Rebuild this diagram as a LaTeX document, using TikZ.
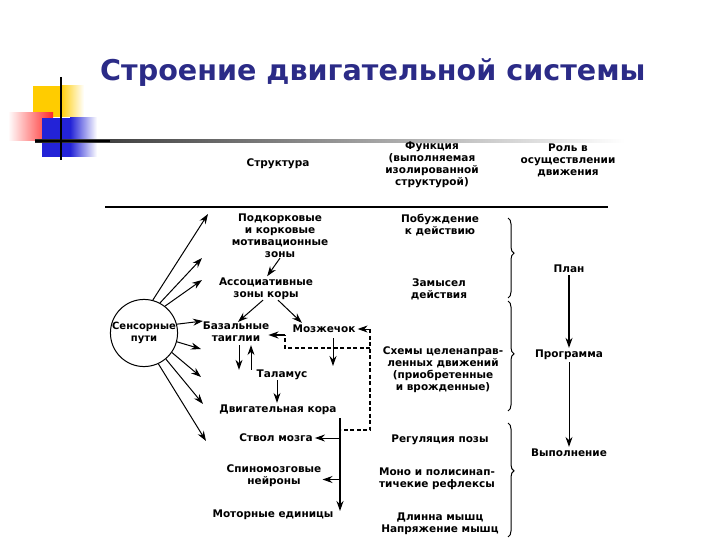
\documentclass[tikz,border=0pt]{standalone}
\usepackage{fontspec}
\setmainfont{DejaVu Sans}
\usetikzlibrary{arrows.meta,decorations.pathreplacing}
\definecolor{titleblue}{RGB}{43,43,135}
\definecolor{decoyellow}{RGB}{255,204,0}
\definecolor{decored}{RGB}{255,40,40}
\definecolor{decoblue}{RGB}{35,35,215}
\begin{document}
\begin{tikzpicture}[x=1pt,y=-1pt,
  txt/.style={font=\fontsize{10.5}{12}\selectfont\bfseries, align=center, inner sep=0pt},
  arr/.style={-{Stealth[length=10pt,width=7pt]}, line width=1pt},
  dsh/.style={dash pattern=on 4pt off 2.5pt, line width=1.3pt},
  brc/.style={decorate, line width=1pt}
]
\useasboundingbox (0,0) rectangle (720,540);
% decoration
\fill[decoyellow] (33,86) rectangle (60,117);
\shade[left color=decoyellow, right color=white] (60,86) rectangle (84,117);
\shade[left color=white, right color=decored] (8,113) rectangle (53,141);
\fill[decoblue] (42,118) rectangle (70,157);
\shade[left color=decoblue, right color=white] (70,118) rectangle (97,157);
\shade[left color=black!85, middle color=black!45, right color=white] (35,139.8) rectangle (625,142.3);
\draw[line width=2.5pt] (35,141) -- (110,141);
\draw[line width=2.5pt] (61,77) -- (61,160);
% title
\node[font=\fontsize{28.6}{33}\selectfont\bfseries, text=titleblue, anchor=base west, inner sep=0pt] (title) at (100,81) {Строение двигательной системы};
% headers
\node[txt] (struct) at (278,164) {Структура};
\node[txt] (func) at (432,164.5) {Функция\\(выполняемая\\изолированной\\структурой)};
\node[txt] (role) at (568,160) {Роль в\\осуществлении\\движения};
\draw[line width=2.5pt] (105,207) -- (608,207);
% structure column
\node[draw, circle, line width=1pt, minimum size=64pt, inner sep=0pt, font=\fontsize{10}{12}\selectfont\bfseries, align=center] (sens) at (144,333) {Сенсорные\\пути};
\node[txt] (podk) at (280,236) {Подкорковые\\и корковые\\мотивационные\\зоны};
\node[txt] (assoc) at (266,289) {Ассоциативные\\зоны коры};
\node[txt] (basal) at (236,332) {Базальные\\таиглии};
\node[txt] (cereb) at (324,329) {Мозжечок};
\node[txt] (thal) at (282,375) {Таламус};
\node[txt] (motor) at (278,410) {Двигательная кора};
\node[txt] (stem) at (276,438) {Ствол мозга};
\node[txt] (spinal) at (274,475.5) {Спиномозговые\\нейроны};
\node[txt] (units) at (273,515) {Моторные единицы};
% function column
\node[txt] (f1) at (440,225) {Побуждение\\к действию};
\node[txt] (f2) at (439,289) {Замысел\\действия};
\node[txt] (f3) at (443,370) {Схемы целенаправ-\\ленных движений\\(приобретенные\\и врожденные)};
\node[txt] (f4) at (440,440) {Регуляция позы};
\node[txt] (f5) at (437,479) {Моно и полисинап-\\тичекие рефлексы};
\node[txt] (f6) at (440,523.5) {Длинна мышц\\Напряжение мышц};
% role column
\node[txt] (plan) at (569,269) {План};
\node[txt] (prog) at (569,355) {Программа};
\node[txt] (exec) at (569,453) {Выполнение};
\draw[arr, line width=1.8pt, shorten <=2pt, shorten >=2pt] (plan) -- (prog);
\draw[arr, shorten <=2pt, shorten >=2pt] (prog) -- (exec);
% braces
\draw[brc, decoration={brace, amplitude=6pt, aspect=0.44}] (508,218) -- (508,298);
\draw[brc, decoration={brace, amplitude=6pt, aspect=0.48}] (508,301) -- (508,411);
\draw[brc, decoration={brace, amplitude=6pt, aspect=0.42}] (508,423) -- (508,537);
% sensory arrows
\coordinate (e1) at (208,214);
\coordinate (e2) at (202,258);
\coordinate (e3) at (202,280);
\coordinate (e4) at (203,321);
\coordinate (e5) at (201,349);
\coordinate (e6) at (201,377);
\coordinate (e7) at (203,404);
\coordinate (e8) at (206,441);
\draw[arr] (sens.75) -- (e1);
\draw[arr] (sens.62) -- (e2);
\draw[arr] (sens.52) -- (e3);
\draw[arr] (sens.15) -- (e4);
\draw[arr] (sens.-15) -- (e5);
\draw[arr] (sens.-35) -- (e6);
\draw[arr] (sens.-50) -- (e7);
\draw[arr] (sens.-65) -- (e8);
% structure connectors
\draw[arr, shorten >=2pt] (podk.south) -- (assoc.north);
\draw[arr] ([xshift=-3pt]assoc.south) -- ([xshift=2pt]basal.north);
\draw[arr, shorten >=3pt] ([xshift=12pt]assoc.south) -- ([xshift=-20pt]cereb.north);
\draw[arr] ([xshift=3pt,yshift=-3pt]basal.south) -- ([xshift=3pt]basal.south |- thal.north);
\draw[arr] ([xshift=-31pt]thal.north) -- ([xshift=-31pt,yshift=-3pt]thal.north |- basal.south);
\draw[arr, shorten >=2pt] ([xshift=-5pt]thal.south) -- ([xshift=-5pt]thal.south |- motor.north);
\coordinate (cd) at (333,366);
\draw[arr] ([xshift=9pt,yshift=-5pt]cereb.south) -- (cd);
% dashed feedback
\coordinate (d1) at (370,329);
\coordinate (d2) at (370,430);
\coordinate (d3) at (341,430);
\coordinate (j) at (370,348);
\coordinate (k) at (285,348);
\coordinate (k2) at (285,335);
\draw[arr, shorten >=2pt] (d1) -- (cereb.east);
\draw[dsh] (d1) -- (d2) -- (d3);
\draw[dsh] (j) -- (k) -- (k2);
\draw[arr, line width=1.5pt] (k2) -- ([xshift=-1pt]basal.east |- k2);
% descending pathway
\coordinate (v1) at (340,418);
\coordinate (v2) at (340,511);
\draw[arr, line width=2pt] (v1) -- (v2);
\draw[arr, shorten >=2pt] (v1 |- stem.east) -- (stem.east);
\coordinate (sp) at ([yshift=-4pt]spinal.east);
\draw[arr, shorten >=1pt] (v1 |- sp) -- (sp);
\end{tikzpicture}
\end{document}
